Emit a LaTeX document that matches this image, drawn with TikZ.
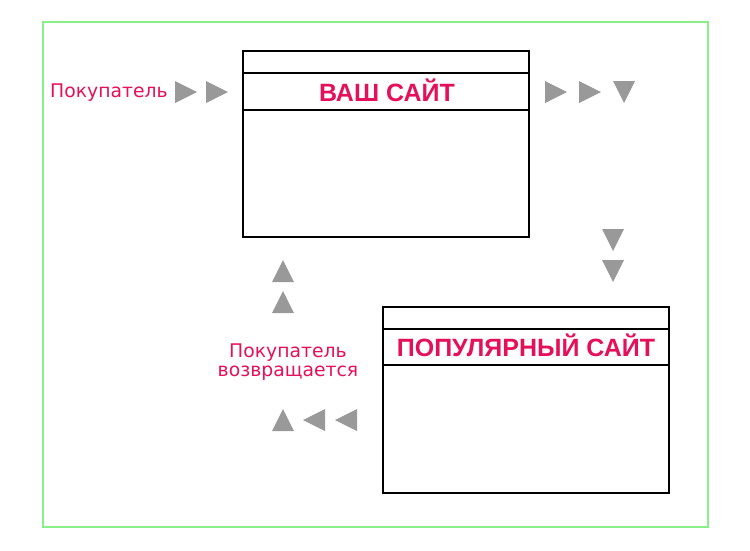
\documentclass[tikz,border=0pt]{standalone}
\usepackage{fontspec}
\setmainfont{DejaVu Sans}
\newfontfamily\titlefont{Liberation Sans}
\definecolor{frameg}{HTML}{88F088}
\definecolor{pinkred}{HTML}{E5105A}
\definecolor{arrg}{HTML}{999999}
\newcommand{\triR}[2]{\fill[arrg] ({#1-11},{#2-11}) -- ({#1+11},#2) -- ({#1-11},{#2+11}) -- cycle;}
\newcommand{\triL}[2]{\fill[arrg] ({#1+11},{#2-11}) -- ({#1-11},#2) -- ({#1+11},{#2+11}) -- cycle;}
\newcommand{\triD}[2]{\fill[arrg] ({#1-11},{#2-11}) -- ({#1+11},{#2-11}) -- (#1,{#2+11}) -- cycle;}
\newcommand{\triU}[2]{\fill[arrg] ({#1-11},{#2+11}) -- ({#1+11},{#2+11}) -- (#1,{#2-11}) -- cycle;}
\begin{document}
\begin{tikzpicture}[x=1pt,y=-1pt,
  sitebox/.style={draw=black,line width=1.6pt},
  titletext/.style={text=pinkred,font=\titlefont\bfseries\fontsize{25}{28}\selectfont,inner sep=0pt,anchor=base},
  lbl/.style={text=pinkred,font=\fontsize{18.8}{22}\selectfont,inner sep=0pt}]
\useasboundingbox (0,0) rectangle (750,550);
\draw[frameg,line width=2.8pt] (43,22) rectangle (708,527);
% site 1
\draw[sitebox] (243,51) rectangle (529,237);
\draw[sitebox] (243,73) -- (529,73);
\draw[sitebox] (243,110) -- (529,110);
\node[titletext] (t1) at (387,101) {ВАШ САЙТ};
% site 2
\draw[sitebox] (383,307) rectangle (669,493);
\draw[sitebox] (383,329) -- (669,329);
\draw[sitebox] (383,365) -- (669,365);
\node[titletext] (t2) at (526,356) {ПОПУЛЯРНЫЙ САЙТ};
% labels
\node[lbl,anchor=base west] (l1) at (50,97) {Покупатель};
\node[lbl,anchor=base] (l2a) at (288,357) {Покупатель};
\node[lbl,anchor=base] (l2b) at (288,376) {возвращается};
% arrows
\triR{186}{92}
\triR{217}{92}
\triR{556}{92}
\triR{590}{92}
\triD{624}{92}
\triD{613}{240}
\triD{613}{271}
\triU{283}{271}
\triU{283}{302}
\triU{283}{420}
\triL{314}{420}
\triL{346}{420}
\end{tikzpicture}
\end{document}
